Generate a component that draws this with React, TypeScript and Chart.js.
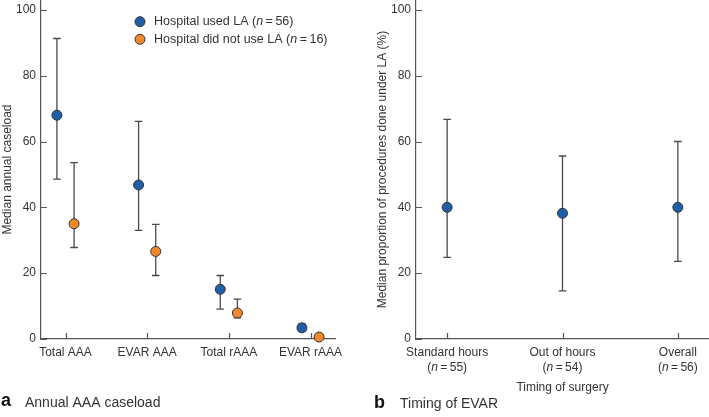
import React, { useEffect, useRef } from "react";
import { Chart, registerables } from "chart.js";

Chart.register(...registerables);
Chart.defaults.font.family = "'Liberation Sans', Arial, Helvetica, sans-serif";
Chart.defaults.color = "#333";

// ---- Panel a: annual AAA caseload ----
const caseloadCategories = ["Total AAA", "EVAR AAA", "Total rAAA", "EVAR rAAA"];
const usedLAMedian = [68, 46.8, 15.1, 3.4];
const usedLALower = [48.6, 33, 9.1, 2.3];
const usedLAUpper = [91.3, 66.1, 19.3, 4.6];
const notUsedLAMedian = [35, 26.6, 7.9, 0.6];
const notUsedLALower = [27.8, 19.3, 6.4, 0.3];
const notUsedLAUpper = [53.6, 34.8, 12.1, 1.0];
const usedLACount = 56;
const notUsedLACount = 16;

// ---- Panel b: timing of EVAR ----
const timingCategories = ["Standard hours", "Out of hours", "Overall"];
const timingCounts = [55, 54, 56];
const timingMedian = [40, 38.2, 40];
const timingLower = [24.8, 14.6, 23.6];
const timingUpper = [66.7, 55.6, 60];

const yTickValues = [0, 20, 40, 60, 80, 100];

const BLUE = "#1f5ea8";
const ORANGE = "#f0892c";
const AXIS = "#555";
const BAR = "#4a4a4a";
const FAM = "'Liberation Sans', Arial, Helvetica, sans-serif";

const errorBarPlugin = {
  id: "errorBars",
  beforeDatasetsDraw(chart: any) {
    const { ctx } = chart;
    const xs = chart.scales.x;
    const ys = chart.scales.y;
    ctx.save();
    ctx.strokeStyle = BAR;
    ctx.lineWidth = 1.3;
    chart.data.datasets.forEach((ds: any) => {
      ds.data.forEach((p: any) => {
        const x = xs.getPixelForValue(p.x);
        const yl = ys.getPixelForValue(p.lo);
        const yh = ys.getPixelForValue(p.hi);
        ctx.beginPath();
        ctx.moveTo(x, yl);
        ctx.lineTo(x, yh);
        ctx.moveTo(x - 3.8, yl);
        ctx.lineTo(x + 3.8, yl);
        ctx.moveTo(x - 3.8, yh);
        ctx.lineTo(x + 3.8, yh);
        ctx.stroke();
      });
    });
    ctx.restore();
  },
};

const innerTicksPlugin = {
  id: "innerTicks",
  afterDraw(chart: any) {
    const { ctx, chartArea } = chart;
    const xs = chart.scales.x;
    const ys = chart.scales.y;
    ctx.save();
    ctx.strokeStyle = AXIS;
    ctx.lineWidth = 1.2;
    ctx.beginPath();
    xs.ticks.forEach((t: any) => {
      const x = Math.round(xs.getPixelForValue(t.value)) + 0.5;
      ctx.moveTo(x, chartArea.bottom);
      ctx.lineTo(x, chartArea.bottom - 6);
    });
    ys.ticks.forEach((t: any) => {
      const y = Math.round(ys.getPixelForValue(t.value)) + 0.5;
      ctx.moveTo(chartArea.left, y);
      ctx.lineTo(chartArea.left + 6, y);
    });
    ctx.stroke();
    ctx.restore();
  },
};

function drawMixed(ctx: CanvasRenderingContext2D, parts: [string, boolean][], x: number, y: number, size: number, align: "left" | "center") {
  let total = 0;
  const widths = parts.map(([t, it]) => {
    ctx.font = `${it ? "italic " : ""}${size}px ${FAM}`;
    const w = ctx.measureText(t).width;
    total += w;
    return w;
  });
  let cx = align === "center" ? x - total / 2 : x;
  parts.forEach(([t, it], i) => {
    ctx.font = `${it ? "italic " : ""}${size}px ${FAM}`;
    ctx.fillText(t, cx, y);
    cx += widths[i];
  });
}

const panelAText = {
  id: "panelAText",
  afterDraw(chart: any) {
    const { ctx } = chart;
    ctx.save();
    const items: [string, number, string][] = [
      ["Hospital used LA (", usedLACount, BLUE],
      ["Hospital did not use LA (", notUsedLACount, ORANGE],
    ];
    items.forEach(([label, n, color], i) => {
      const y = 21.7 + i * 17.6;
      ctx.beginPath();
      ctx.arc(140, y, 5, 0, Math.PI * 2);
      ctx.fillStyle = color;
      ctx.fill();
      ctx.strokeStyle = "#333";
      ctx.lineWidth = 1;
      ctx.stroke();
      ctx.fillStyle = "#333";
      ctx.textBaseline = "middle";
      ctx.textAlign = "left";
      drawMixed(ctx, [[label, false], ["n", true], ["\u2009=\u2009" + n + ")", false]], 154, y, 12.5, "left");
    });
    ctx.textBaseline = "alphabetic";
    ctx.fillStyle = "#111";
    ctx.font = `bold 18px ${FAM}`;
    ctx.fillText("a", 1, 406);
    ctx.fillStyle = "#333";
    ctx.font = `14px ${FAM}`;
    ctx.fillText("Annual AAA caseload", 25, 407);
    ctx.restore();
  },
};

const panelBText = {
  id: "panelBText",
  afterDraw(chart: any) {
    const { ctx, chartArea } = chart;
    const xs = chart.scales.x;
    ctx.save();
    ctx.fillStyle = "#333";
    ctx.textBaseline = "middle";
    ctx.textAlign = "left";
    timingCounts.forEach((n, i) => {
      const x = xs.getPixelForValue(i);
      drawMixed(ctx, [["(", false], ["n", true], ["\u2009=\u2009" + n + ")", false]], x, 367.7, 12, "center");
    });
    ctx.textAlign = "center";
    ctx.textBaseline = "alphabetic";
    ctx.font = `12px ${FAM}`;
    ctx.fillText("Timing of surgery", (chartArea.left + chartArea.right) / 2, 391);
    ctx.textAlign = "left";
    ctx.fillStyle = "#111";
    ctx.font = `bold 18px ${FAM}`;
    ctx.fillText("b", 9, 408);
    ctx.fillStyle = "#333";
    ctx.font = `14px ${FAM}`;
    ctx.fillText("Timing of EVAR", 35, 408);
    ctx.restore();
  },
};

function makeScales(xMin: number, xMax: number, labels: string[], yWidth: number, yTitle: string, titlePad: number) {
  return {
    x: {
      type: "linear" as const,
      min: xMin,
      max: xMax,
      afterBuildTicks: (s: any) => {
        s.ticks = labels.map((_, i) => ({ value: i }));
      },
      afterFit: (s: any) => {
        s.height = 78;
        s.paddingLeft = 0;
        s.paddingRight = 0;
      },
      grid: { display: false, drawTicks: false },
      border: { display: true, color: AXIS, width: 1.2 },
      ticks: {
        padding: 6,
        font: { size: 12 },
        color: "#333",
        maxRotation: 0,
        autoSkip: false,
        callback: (v: any) => labels[Math.round(v)] ?? "",
      },
    },
    y: {
      min: 0,
      max: 103,
      afterBuildTicks: (s: any) => {
        s.ticks = yTickValues.map((v) => ({ value: v }));
      },
      afterFit: (s: any) => {
        s.width = yWidth;
        s.paddingTop = 0;
        s.paddingBottom = 0;
      },
      grid: { display: false, drawTicks: false },
      border: { display: true, color: AXIS, width: 1.2 },
      ticks: { padding: 5, font: { size: 12 }, color: "#333" },
      title: { display: true, text: yTitle, font: { size: 12 }, color: "#333", padding: { top: titlePad, bottom: 0 } },
    },
  };
}

function PanelA() {
  const ref = useRef<HTMLCanvasElement>(null);
  useEffect(() => {
    const mk = (med: number[], lo: number[], hi: number[], off: number) =>
      med.map((v, i) => ({ x: i + off, y: v, lo: lo[i], hi: hi[i] }));
    const chart = new Chart(ref.current!, {
      type: "scatter",
      data: {
        datasets: [
          {
            label: "Hospital used LA",
            data: mk(usedLAMedian, usedLALower, usedLAUpper, -0.105) as any,
            backgroundColor: BLUE,
            borderColor: "#333",
            borderWidth: 1,
            pointRadius: 5,
            pointHoverRadius: 5,
            clip: false as any,
          },
          {
            label: "Hospital did not use LA",
            data: mk(notUsedLAMedian, notUsedLALower, notUsedLAUpper, 0.105) as any,
            backgroundColor: ORANGE,
            borderColor: "#333",
            borderWidth: 1,
            pointRadius: 5,
            pointHoverRadius: 5,
            clip: false as any,
          },
        ],
      },
      options: {
        responsive: false,
        animation: false,
        devicePixelRatio: 1,
        layout: { autoPadding: false, padding: { left: 0, right: 10, top: 0, bottom: 0 } },
        plugins: { legend: { display: false }, tooltip: { enabled: false } },
        scales: makeScales(-0.3, 3.3, caseloadCategories, 41, "Median annual caseload", 0) as any,
      },
      plugins: [errorBarPlugin, innerTicksPlugin, panelAText],
    });
    return () => chart.destroy();
  }, []);
  return <canvas ref={ref} width={345} height={417} style={{ position: "absolute", left: 0, top: 0 }} />;
}

function PanelB() {
  const ref = useRef<HTMLCanvasElement>(null);
  useEffect(() => {
    const chart = new Chart(ref.current!, {
      type: "scatter",
      data: {
        datasets: [
          {
            label: "Timing",
            data: timingMedian.map((v, i) => ({ x: i, y: v, lo: timingLower[i], hi: timingUpper[i] })) as any,
            backgroundColor: BLUE,
            borderColor: "#333",
            borderWidth: 1,
            pointRadius: 5,
            pointHoverRadius: 5,
            clip: false as any,
          },
        ],
      },
      options: {
        responsive: false,
        animation: false,
        devicePixelRatio: 1,
        layout: { autoPadding: false, padding: 0 },
        plugins: { legend: { display: false }, tooltip: { enabled: false } },
        scales: makeScales(-0.27, 2.27, timingCategories, 51, "Median proportion of procedures done under LA (%)", 10) as any,
      },
      plugins: [errorBarPlugin, innerTicksPlugin, panelBText],
    });
    return () => chart.destroy();
  }, []);
  return <canvas ref={ref} width={344} height={417} style={{ position: "absolute", left: 365, top: 0 }} />;
}

export default function App() {
  return (
    <div style={{ position: "fixed", left: 0, top: 0, width: 709, height: 417, background: "#fff", overflow: "hidden" }}>
      <PanelA />
      <PanelB />
    </div>
  );
}
